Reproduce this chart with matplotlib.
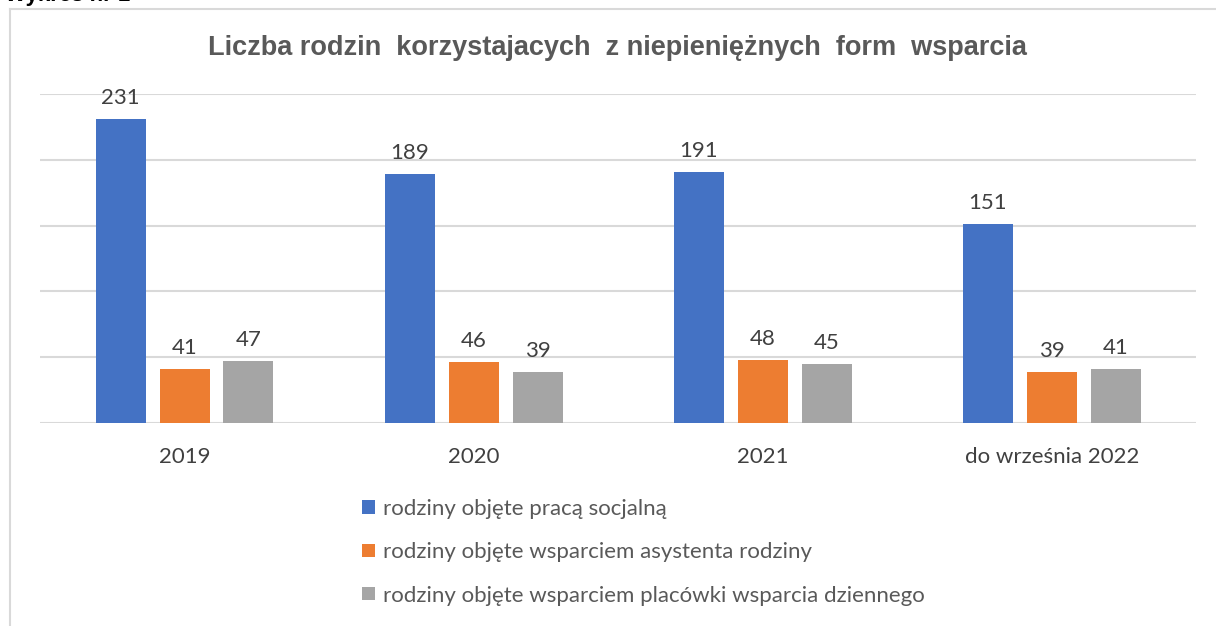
import matplotlib
matplotlib.use("Agg")
import matplotlib.pyplot as plt
from matplotlib.lines import Line2D
from matplotlib.patches import Patch
import numpy as np

# data
categories = ['2019', '2020', '2021', 'do września 2022']
praca_socjalna = [231, 189, 191, 151]
asystent_rodziny = [41, 46, 48, 39]
placowka_dzienna = [47, 39, 45, 41]
series_names = ['rodziny objęte pracą socjalną',
                 'rodziny objęte wsparciem asystenta rodziny',
                 'rodziny objęte wsparciem placówki wsparcia dziennego']
colors = ['#4472C4', '#ED7D31', '#A5A5A5']

plt.rcParams['font.family'] = ['Lato', 'DejaVu Sans']

fig = plt.figure(figsize=(12.16, 6.26), dpi=100)
ax = fig.add_axes([0.0329, 0.3243, 0.951, 0.5255])

x = np.arange(len(categories))
width = 0.173
offset = 0.221
all_series = [praca_socjalna, asystent_rodziny, placowka_dzienna]
for i, vals in enumerate(all_series):
    bars = ax.bar(x + (i - 1) * offset, vals, width, color=colors[i], zorder=3,
                  label=series_names[i])
    ax.bar_label(bars, padding=8, fontsize=16, color='#404040')

ax.set_xlim(-0.5, len(categories) - 0.5)
ax.set_ylim(0, 250)
ax.set_yticks([0, 50, 100, 150, 200, 250])
ax.yaxis.grid(True, color='#D9D9D9', linewidth=1.5, zorder=0)
ax.tick_params(axis='y', left=False, labelleft=False)
ax.tick_params(axis='x', bottom=False, pad=14, labelsize=16, labelcolor='#404040')
ax.set_xticks(x)
ax.set_xticklabels(categories)
for s in ax.spines.values():
    s.set_visible(False)

fig.text(0.508, 0.923, 'Liczba rodzin  korzystajacych  z niepieniężnych  form  wsparcia',
         ha='center', va='center', fontsize=19.5, fontweight='bold', color='#595959',
         family=['Liberation Sans', 'DejaVu Sans'])

# heading above the chart box, cut off by the top edge (as in the source)
fig.text(0.004, 0.999, 'Wykres nr 1', ha='left', va='baseline', fontsize=16,
         fontweight='bold', color='black', family=['Liberation Sans', 'DejaVu Sans'])

# chart box border
fig.add_artist(Line2D([10 / 1216, 1.0], [1 - 9 / 626, 1 - 9 / 626], color='#D9D9D9', lw=1.5))
fig.add_artist(Line2D([10 / 1216, 10 / 1216], [0, 1 - 9 / 626], color='#D9D9D9', lw=1.5))

handles = [Patch(facecolor=c) for c in colors]
fig.legend(handles, series_names, loc='upper left', bbox_to_anchor=(0.298, 0.203),
           frameon=False, fontsize=16, labelcolor='#595959', handlelength=0.55,
           handleheight=0.55, handletextpad=0.4, labelspacing=1.05, borderpad=0,
           borderaxespad=0)

fig.savefig('out.png', dpi=100)
